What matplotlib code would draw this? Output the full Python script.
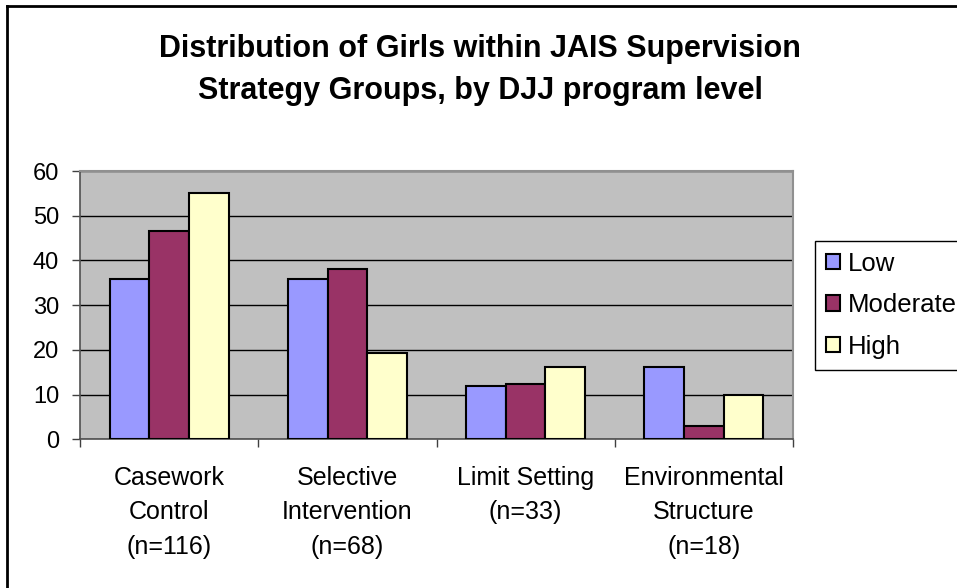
import numpy as np
import matplotlib
matplotlib.use('Agg')
import matplotlib.pyplot as plt
from matplotlib.lines import Line2D

plt.rcParams['font.family'] = ['Liberation Sans', 'DejaVu Sans']

# data
categories = ['Casework\nControl\n(n=116)', 'Selective\nIntervention\n(n=68)',
              'Limit Setting\n(n=33)', 'Environmental\nStructure\n(n=18)']
series = ['Low', 'Moderate', 'High']
low = [35.8, 35.8, 12.0, 16.1]
moderate = [46.5, 38.0, 12.4, 3.0]
high = [55.0, 19.2, 16.1, 9.8]
colors = ['#9999FF', '#993366', '#FFFFCC']

fig = plt.figure(figsize=(9.57, 5.88), dpi=100)
ax = fig.add_axes([80 / 957, 1 - 439.3 / 588, (793 - 80) / 957, (439.3 - 171) / 588])
ax.set_facecolor('#C0C0C0')

x = np.arange(len(categories))
w = 1 / 4.5
for i, (vals, name) in enumerate(zip([low, moderate, high], series)):
    ax.bar(x + (i - 1) * w, vals, w, color=colors[i], edgecolor='black',
           linewidth=1.5, label=name, zorder=3)

ax.set_xlim(-0.5, 3.5)
ax.set_ylim(0, 60)
ax.set_yticks(range(0, 61, 10))
ax.yaxis.grid(True, color='black', linewidth=1, zorder=1)
ax.set_axisbelow(True)
ax.set_xticks(x)
ax.set_xticklabels(categories, fontsize=18, linespacing=1.55)
ax.set_xticks(np.arange(-0.5, 4, 1), minor=True)
ax.tick_params(axis='x', which='major', length=0, pad=19)
ax.tick_params(axis='x', which='minor', length=6, width=1, color='#404040', direction='out')
ax.tick_params(axis='y', length=6, width=1, color='#404040', labelsize=17, pad=9)

for s in ['top', 'right']:
    ax.spines[s].set_color('#909090')
    ax.spines[s].set_linewidth(1.5)
for s in ['left', 'bottom']:
    ax.spines[s].set_color('#505050')
    ax.spines[s].set_linewidth(1.2)

fig.text(0.502, 1 - 70 / 588,
         'Distribution of Girls within JAIS Supervision\nStrategy Groups, by DJJ program level',
         ha='center', va='center', fontsize=22, fontweight='bold', linespacing=1.55)

leg = ax.legend(loc='upper left', bbox_to_anchor=(815 / 957, 1 - 241 / 588),
                bbox_transform=fig.transFigure, fontsize=18.5, frameon=True,
                fancybox=False, framealpha=1, edgecolor='black',
                handlelength=0.55, handleheight=0.55, handletextpad=0.3,
                labelspacing=0.68, borderpad=0.42, borderaxespad=0)
leg.get_frame().set_linewidth(1)

# outer chart border (left and top visible)
fig.add_artist(Line2D([7.5 / 957, 7.5 / 957], [0, 1 - 6 / 588], color='black',
                      linewidth=2, transform=fig.transFigure))
fig.add_artist(Line2D([7.5 / 957, 1], [1 - 6 / 588, 1 - 6 / 588], color='black',
                      linewidth=2, transform=fig.transFigure))

fig.savefig('out.png', dpi=100)
